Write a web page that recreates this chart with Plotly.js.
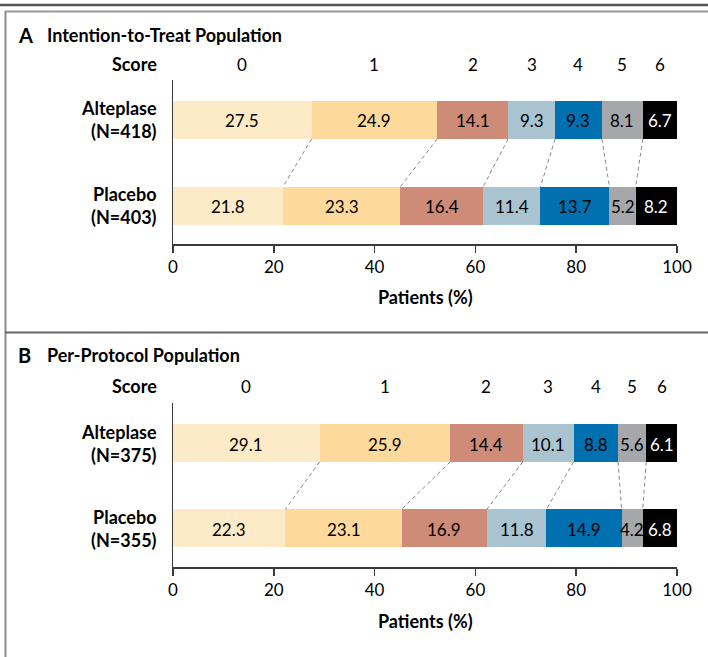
<!DOCTYPE html>
<html>
<head>
<meta charset="utf-8">
<script src="https://cdn.plot.ly/plotly-3.0.1.min.js"></script>
<style>html,body{margin:0;padding:0;background:#fff;}#chart{width:708px;height:657px;}</style>
</head>
<body>
<div id="chart"></div>
<script>
// ---- Data ----
const scores = ['0', '1', '2', '3', '4', '5', '6'];
const ittAlteplase = [27.5, 24.9, 14.1, 9.3, 9.3, 8.1, 6.7];
const ittPlacebo   = [21.8, 23.3, 16.4, 11.4, 13.7, 5.2, 8.2];
const ppAlteplase  = [29.1, 25.9, 14.4, 10.1, 8.8, 5.6, 6.1];
const ppPlacebo    = [22.3, 23.1, 16.9, 11.8, 14.9, 4.2, 6.8];
const ittGroupLabels = ['<b>Alteplase</b><br><b>(N=418)</b>', '<b>Placebo</b><br><b>(N=403)</b>'];
const ppGroupLabels  = ['<b>Alteplase</b><br><b>(N=375)</b>', '<b>Placebo</b><br><b>(N=355)</b>'];
const panelLetters = ['A', 'B'];
const panelTitles = ['Intention-to-Treat Population', 'Per-Protocol Population'];
const xTicks = [0, 20, 40, 60, 80, 100];
const axisTitle = '<b>Patients (%)</b>';

// ---- Styles ----
const segColors = ['#FDEBC7', '#FDDA9C', '#CD8B78', '#AAC3D0', '#0070B0', '#A6A7AB', '#000000'];
const segTextColors = ['#000', '#000', '#000', '#000', '#000', '#000', '#ffffff'];
const FONT = 'Lato, "Open Sans", sans-serif';
const W = 708, H = 657;
const px = x => x / W;
const py = y => 1 - y / H;
const BARW = 0.442;

const cum = arr => { const out = [0]; arr.forEach(v => out.push(out[out.length - 1] + v)); return out; };

const traces = [];
const annotations = [];
const shapes = [];

function panel(alt, pla, ax, groupLabels, letter, title, geom) {
  const xa = ax === 1 ? 'x' : 'x2';
  const ya = ax === 1 ? 'y' : 'y2';
  scores.forEach((s, i) => {
    traces.push({
      type: 'bar', orientation: 'h', x: [alt[i], pla[i]], y: [1, 0], width: BARW,
      marker: {color: segColors[i], line: {width: 0}}, xaxis: xa, yaxis: ya,
      hoverinfo: 'skip', showlegend: false
    });
  });
  const ca = cum(alt), cp = cum(pla);
  // value labels
  [[alt, ca, 1], [pla, cp, 0]].forEach(([arr, c, yv]) => {
    arr.forEach((v, i) => {
      annotations.push({xref: xa, yref: ya, x: c[i] + v / 2, y: yv, xanchor: 'center', yanchor: 'middle',
        yshift: -1, text: v.toFixed(1), showarrow: false,
        font: {family: FONT, size: 17, color: segTextColors[i]}});
    });
  });
  // dashed connectors
  const lx = [], ly = [];
  for (let k = 1; k < scores.length; k++) {
    lx.push(ca[k], cp[k], null);
    ly.push(1 - BARW / 2, BARW / 2, null);
  }
  traces.push({
    type: 'scatter', mode: 'lines', xaxis: xa, yaxis: ya, showlegend: false, hoverinfo: 'skip',
    x: lx, y: ly, line: {color: '#8a8a8a', width: 1, dash: '4px,3px'}
  });
  // score labels
  annotations.push({xref: 'paper', yref: 'paper', x: px(159), y: py(geom.scoreY), xanchor: 'right', yanchor: 'middle',
    text: '<b>Score</b>', showarrow: false, font: {family: FONT, size: 18, color: '#000'}});
  scores.forEach((s, i) => {
    annotations.push({xref: xa, yref: 'paper', x: ca[i] + alt[i] / 2, y: py(geom.scoreY), xanchor: 'center', yanchor: 'middle',
      text: s, showarrow: false, font: {family: FONT, size: 17, color: '#000'}});
  });
  // group labels
  groupLabels.forEach((g, j) => {
    annotations.push({xref: 'paper', yref: ya, x: px(159), y: 1 - j, xanchor: 'right', yanchor: 'middle', align: 'right',
      text: g, showarrow: false, font: {family: FONT, size: 18, color: '#000'}});
  });
  // title
  annotations.push({xref: 'paper', yref: 'paper', x: px(16), y: py(geom.titleY), xanchor: 'left', yanchor: 'middle',
    text: '<b>' + letter + '</b>', showarrow: false, font: {family: FONT, size: 20, color: '#000'}});
  annotations.push({xref: 'paper', yref: 'paper', x: px(45), y: py(geom.titleY), xanchor: 'left', yanchor: 'middle',
    text: '<b>' + title + '</b>', showarrow: false, font: {family: FONT, size: 18, color: '#000'}});
  // axis title
  annotations.push({xref: 'paper', yref: 'paper', x: px(425), y: py(geom.axisTitleY), xanchor: 'center', yanchor: 'middle',
    text: axisTitle, showarrow: false, font: {family: FONT, size: 18, color: '#000'}});
}

const geomA = {titleY: 35, scoreY: 64, axisTitleY: 297};
const geomB = {titleY: 355, scoreY: 386, axisTitleY: 621};
panel(ittAlteplase, ittPlacebo, 1, ittGroupLabels, panelLetters[0], panelTitles[0], geomA);
panel(ppAlteplase, ppPlacebo, 2, ppGroupLabels, panelLetters[1], panelTitles[1], geomB);

// frame lines
shapes.push({type: 'line', xref: 'paper', yref: 'paper', x0: 0, x1: 1, y0: py(5), y1: py(5), line: {color: '#555', width: 2.5}});
shapes.push({type: 'line', xref: 'paper', yref: 'paper', x0: px(5), x1: 1, y0: py(11.5), y1: py(11.5), line: {color: '#999', width: 1.8}});
shapes.push({type: 'line', xref: 'paper', yref: 'paper', x0: px(5.5), x1: px(5.5), y0: py(11), y1: 0, line: {color: '#8a8a8a', width: 2}});
shapes.push({type: 'line', xref: 'paper', yref: 'paper', x0: px(5), x1: 1, y0: py(332.5), y1: py(332.5), line: {color: '#666', width: 2.2}});

const xaxisBase = {
  range: [0, 100], showgrid: false, zeroline: false, showline: true, linecolor: '#3a3a3a', linewidth: 1.5,
  ticks: 'outside', ticklen: 7, tickwidth: 1.5, tickcolor: '#3a3a3a', tickvals: xTicks,
  tickfont: {family: FONT, size: 17, color: '#000'}, fixedrange: true
};
const yaxisBase = {
  range: [-0.442, 1.465], showgrid: false, zeroline: false, showline: true, linecolor: '#3a3a3a', linewidth: 1.5,
  showticklabels: false, ticks: '', fixedrange: true
};

const layout = {
  width: W, height: H, margin: {l: 0, r: 0, t: 0, b: 0},
  paper_bgcolor: '#fff', plot_bgcolor: 'rgba(0,0,0,0)',
  barmode: 'stack', bargap: 0, showlegend: false,
  font: {family: FONT, color: '#000'},
  xaxis: Object.assign({}, xaxisBase, {domain: [px(173), px(677)], anchor: 'y'}),
  yaxis: Object.assign({}, yaxisBase, {domain: [py(244), py(80)], anchor: 'x'}),
  xaxis2: Object.assign({}, xaxisBase, {domain: [px(173), px(677)], anchor: 'y2'}),
  yaxis2: Object.assign({}, yaxisBase, {domain: [py(567), py(403)], anchor: 'x2', range: [-0.459, 1.471]}),
  annotations: annotations, shapes: shapes
};

Plotly.newPlot('chart', traces, layout, {staticPlot: true, displayModeBar: false});
</script>
</body>
</html>
